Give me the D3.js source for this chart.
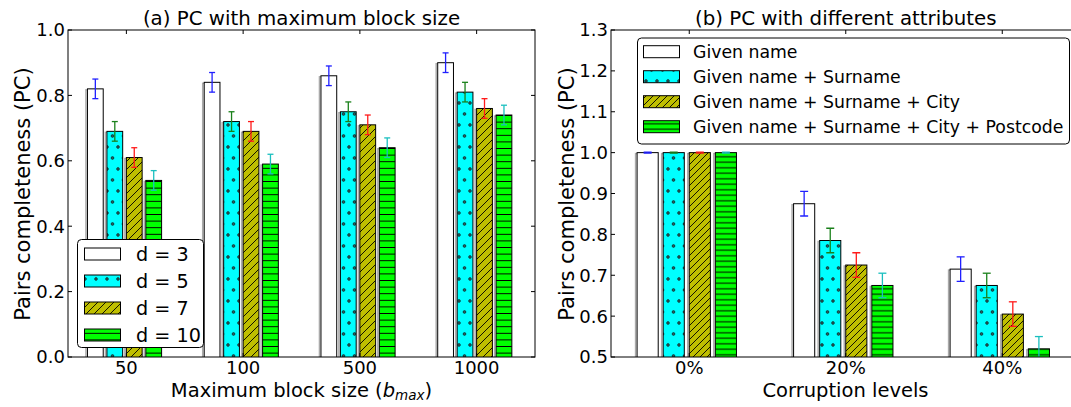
<!DOCTYPE html>
<html>
<head>
<meta charset="utf-8">
<script src="https://cdn.jsdelivr.net/npm/d3@7"></script>
<style>
  body { margin: 0; background: #fff; }
  text { font-family: "DejaVu Sans", sans-serif; fill: #000; }
</style>
</head>
<body>
<div id="chart"></div>
<script>
// Data, panel (a)
const blockSizes = ["50", "100", "500", "1000"];
const dLabels = ["d = 3", "d = 5", "d = 7", "d = 10"];
const pcD3 = [0.82, 0.84, 0.86, 0.90];
const pcD5 = [0.69, 0.72, 0.75, 0.81];
const pcD7 = [0.61, 0.69, 0.71, 0.76];
const pcD10 = [0.54, 0.59, 0.64, 0.74];
const errA = [0.03, 0.03, 0.03, 0.03];
const yTicksA = [0.0, 0.2, 0.4, 0.6, 0.8, 1.0];

// Data, panel (b)
const corruption = ["0%", "20%", "40%"];
const attrLabels = ["Given name", "Given name + Surname", "Given name + Surname + City", "Given name + Surname + City + Postcode"];
const pcGiven = [1.0, 0.875, 0.715];
const pcSurname = [1.0, 0.785, 0.675];
const pcCity = [1.0, 0.725, 0.605];
const pcPostcode = [1.0, 0.675, 0.52];
const errB = [0.001, 0.03, 0.03];
const yTicksB = [0.5, 0.6, 0.7, 0.8, 0.9, 1.0, 1.1, 1.2, 1.3];

const W = 1071, H = 407;
const svg = d3.select("#chart").append("svg")
  .attr("width", W)
  .attr("height", H);

const defs = svg.append("defs");

// Hatch patterns (matplotlib style: 'o' dots, '/' and '-')
function makePatterns(suffix, dash, diag) {
  const dots = defs.append("pattern")
    .attr("id", "dots" + suffix)
    .attr("patternUnits", "userSpaceOnUse")
    .attr("width", 11).attr("height", 22);
  dots.append("rect").attr("width", 11).attr("height", 22).attr("fill", "#00ffff");
  [[2.5, 4], [8, 15]].forEach(function (p) {
    dots.append("circle").attr("cx", p[0]).attr("cy", p[1]).attr("r", 1.4)
      .attr("fill", "#2a5f5f").attr("stroke", "#000").attr("stroke-width", 0.5);
  });

  const slash = defs.append("pattern")
    .attr("id", "slash" + suffix)
    .attr("patternUnits", "userSpaceOnUse")
    .attr("width", diag).attr("height", diag);
  slash.append("rect").attr("width", diag).attr("height", diag).attr("fill", "#bfbf00");
  slash.append("path")
    .attr("d", `M0,${diag} l${diag},${-diag} M${-diag / 2},${diag / 2} l${diag},${-diag} M${diag / 2},${diag * 1.5} l${diag},${-diag}`)
    .attr("stroke", "#000").attr("stroke-width", 0.9);

  const horiz = defs.append("pattern")
    .attr("id", "horiz" + suffix)
    .attr("patternUnits", "userSpaceOnUse")
    .attr("width", 10).attr("height", dash);
  horiz.append("rect").attr("width", 10).attr("height", dash).attr("fill", "#00ff00");
  horiz.append("line").attr("x1", 0).attr("x2", 10).attr("y1", dash / 2).attr("y2", dash / 2)
    .attr("stroke", "#000").attr("stroke-width", 1);
}
makePatterns("A", 6.6, 8);
makePatterns("B", 5.5, 7);

const errColors = ["#2020ff", "#1a801a", "#ff1a1a", "#1abfbf"];

function drawPanel(opt) {
  const x = d3.scaleLinear().domain([-0.5, opt.cats.length - 0.5]).range(opt.xRange);
  const y = d3.scaleLinear().domain(opt.yDomain).range([357, 30]);
  const step = 1 / 6, bw = 0.135;

  const clipId = "clip" + opt.key;
  defs.append("clipPath").attr("id", clipId)
    .append("rect")
    .attr("x", opt.xRange[0]).attr("y", 30)
    .attr("width", opt.xRange[1] - opt.xRange[0]).attr("height", 327);

  const plot = svg.append("g").attr("clip-path", `url(#${clipId})`);

  opt.series.forEach(function (vals, k) {
    const g = plot.append("g");
    // faint shadow behind bars
    g.selectAll("rect.shadow")
      .data(vals)
      .join("rect")
      .attr("class", "shadow")
      .attr("x", function (d, i) { return x(i - 1 / 3 + k * step) - 1.5; })
      .attr("y", function (d) { return y(d) + 1; })
      .attr("width", x(bw) - x(0))
      .attr("height", function (d) { return y(opt.yDomain[0]) - y(d) + 5; })
      .attr("fill", "none")
      .attr("stroke", "#aaa")
      .attr("stroke-width", 1.5);
    g.selectAll("rect.bar")
      .data(vals)
      .join("rect")
      .attr("class", "bar")
      .attr("x", function (d, i) { return x(i - 1 / 3 + k * step); })
      .attr("y", function (d) { return y(d); })
      .attr("width", x(bw) - x(0))
      .attr("height", function (d) { return y(opt.yDomain[0]) - y(d) + 5; })
      .attr("fill", opt.fills[k])
      .attr("stroke", "#000")
      .attr("stroke-width", 1);
  });

  // Error bars
  opt.series.forEach(function (vals, k) {
    const g = plot.append("g")
      .attr("stroke", errColors[k])
      .attr("stroke-width", 1.3);
    vals.forEach(function (v, i) {
      const cx = x(i - 1 / 3 + k * step + bw / 2);
      const e = opt.err[i];
      g.append("line").attr("x1", cx).attr("x2", cx).attr("y1", y(v - e)).attr("y2", y(v + e));
      g.append("line").attr("x1", cx - opt.cap).attr("x2", cx + opt.cap).attr("y1", y(v - e)).attr("y2", y(v - e));
      g.append("line").attr("x1", cx - opt.cap).attr("x2", cx + opt.cap).attr("y1", y(v + e)).attr("y2", y(v + e));
    });
  });

  // Frame and inward ticks
  const axes = svg.append("g").attr("stroke", "#000").attr("stroke-width", 1).attr("fill", "none");
  axes.append("rect")
    .attr("x", opt.xRange[0]).attr("y", 30)
    .attr("width", opt.xRange[1] - opt.xRange[0]).attr("height", 327);
  opt.cats.forEach(function (c, i) {
    axes.append("line").attr("x1", x(i)).attr("x2", x(i)).attr("y1", 30).attr("y2", 34);
    axes.append("line").attr("x1", x(i)).attr("x2", x(i)).attr("y1", 357).attr("y2", 353);
  });
  opt.yTicks.forEach(function (t) {
    axes.append("line").attr("x1", opt.xRange[0]).attr("x2", opt.xRange[0] + 4).attr("y1", y(t)).attr("y2", y(t));
    axes.append("line").attr("x1", opt.xRange[1]).attr("x2", opt.xRange[1] - 4).attr("y1", y(t)).attr("y2", y(t));
  });

  // Tick labels
  svg.append("g").selectAll("text")
    .data(opt.yTicks)
    .join("text")
    .attr("x", opt.xRange[0] - 3)
    .attr("y", function (d) { return y(d); })
    .attr("dy", "0.36em")
    .attr("text-anchor", "end")
    .attr("font-size", "18px")
    .text(function (d) { return d.toFixed(1); });
  svg.append("g").selectAll("text")
    .data(opt.cats)
    .join("text")
    .attr("x", function (d, i) { return x(i); })
    .attr("y", 374)
    .attr("text-anchor", "middle")
    .attr("font-size", "18px")
    .text(function (d) { return d; });

  // Title
  svg.append("text")
    .attr("x", (opt.xRange[0] + opt.xRange[1]) / 2)
    .attr("y", 25)
    .attr("text-anchor", "middle")
    .attr("font-size", "19.8px")
    .text(opt.title);

  // Y label
  svg.append("text")
    .attr("transform", `translate(${opt.yLabelX}, 194) rotate(-90)`)
    .attr("text-anchor", "middle")
    .attr("font-size", "21px")
    .text("Pairs completeness (PC)");

  return x;
}

drawPanel({
  key: "A",
  cats: blockSizes,
  series: [pcD3, pcD5, pcD7, pcD10],
  err: errA,
  fills: ["#fff", "url(#dotsA)", "url(#slashA)", "url(#horizA)"],
  xRange: [68, 535],
  yDomain: [0, 1],
  yTicks: yTicksA,
  cap: 3,
  title: "(a) PC with maximum block size",
  yLabelX: 30
});

drawPanel({
  key: "B",
  cats: corruption,
  series: [pcGiven, pcSurname, pcCity, pcPostcode],
  err: errB,
  fills: ["#fff", "url(#dotsB)", "url(#slashB)", "url(#horizB)"],
  xRange: [611, 1080.5],
  yDomain: [0.5, 1.3],
  yTicks: yTicksB,
  cap: 4,
  title: "(b) PC with different attributes",
  yLabelX: 574
});

// X axis labels
const xlabA = svg.append("text")
  .attr("x", 301.5)
  .attr("y", 397)
  .attr("text-anchor", "middle")
  .attr("font-size", "19.5px");
xlabA.append("tspan").text("Maximum block size (");
xlabA.append("tspan").attr("font-style", "italic").text("b");
xlabA.append("tspan").attr("font-style", "italic").attr("font-size", "13.5px").attr("dy", 3).text("max");
xlabA.append("tspan").attr("dy", -3).text(")");

svg.append("text")
  .attr("x", 845.5)
  .attr("y", 397)
  .attr("text-anchor", "middle")
  .attr("font-size", "19.5px")
  .text("Corruption levels");

// Legends
function drawLegend(labels, fills, box, rows, fontSize) {
  const lg = svg.append("g");
  lg.append("rect")
    .attr("x", box.x).attr("y", box.y)
    .attr("width", box.w).attr("height", box.h)
    .attr("rx", 4)
    .attr("fill", "#fff")
    .attr("stroke", "#000")
    .attr("stroke-width", 1);
  labels.forEach(function (lab, i) {
    const cy = rows.y0 + i * rows.dy;
    lg.append("rect")
      .attr("x", rows.px).attr("y", cy - 6)
      .attr("width", 36).attr("height", 12)
      .attr("fill", fills[i])
      .attr("stroke", "#000")
      .attr("stroke-width", 1);
    lg.append("text")
      .attr("x", rows.tx).attr("y", cy)
      .attr("dy", "0.36em")
      .attr("font-size", fontSize)
      .text(lab);
  });
}

drawLegend(dLabels, ["#fff", "url(#dotsA)", "url(#slashA)", "url(#horizA)"],
  { x: 77.5, y: 239.5, w: 126, h: 108 }, { y0: 254, dy: 27, px: 84.5, tx: 136 }, "19.2px");
drawLegend(attrLabels, ["#fff", "url(#dotsB)", "url(#slashB)", "url(#horizB)"],
  { x: 637.5, y: 38, w: 432, h: 106 }, { y0: 51.7, dy: 25, px: 643.5, tx: 693 }, "17.3px");
</script>
</body>
</html>
